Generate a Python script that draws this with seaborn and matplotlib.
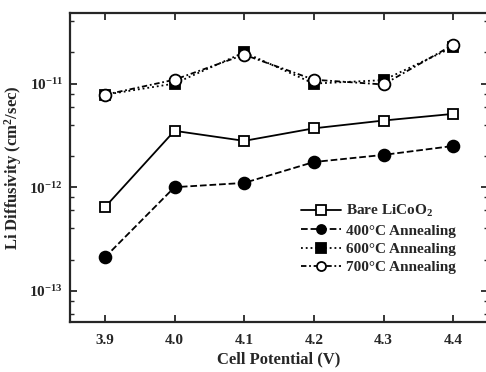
import numpy as np
import pandas as pd
import matplotlib
matplotlib.use('Agg')
import matplotlib.pyplot as plt
import matplotlib.ticker as mticker
import seaborn as sns

# data
potential = [3.9, 4.0, 4.1, 4.2, 4.3, 4.4]
bare = [6.4e-13, 3.5e-12, 2.8e-12, 3.7e-12, 4.4e-12, 5.1e-12]
ann400 = [2.1e-13, 1.0e-12, 1.1e-12, 1.75e-12, 2.05e-12, 2.5e-12]
ann600 = [7.8e-12, 1.0e-11, 2.0e-11, 1.0e-11, 1.08e-11, 2.25e-11]
ann700 = [7.8e-12, 1.09e-11, 1.9e-11, 1.09e-11, 0.98e-11, 2.37e-11]
labels = [r'Bare LiCoO$\mathbf{_2}$', u'400\u00b0C Annealing',
          u'600\u00b0C Annealing', u'700\u00b0C Annealing']

sns.set_style('ticks')
plt.rcParams['font.family'] = ['Liberation Serif', 'DejaVu Serif']
plt.rcParams['font.weight'] = 'bold'
plt.rcParams['mathtext.fontset'] = 'custom'
plt.rcParams['mathtext.rm'] = 'Liberation Serif:bold'
plt.rcParams['mathtext.bf'] = 'Liberation Serif:bold'

df = pd.DataFrame({'V': potential * 4,
                   'D': bare + ann400 + ann600 + ann700,
                   'series': np.repeat(labels, len(potential))})

fig = plt.figure(figsize=(4.86, 3.72), dpi=100)
ax = fig.add_axes([70 / 486, 1 - 322 / 372, 418 / 486, 309 / 372])

styles = [('-', 's', 'white', 7.5), ('--', 'o', 'black', 8.5),
          (':', 's', 'black', 7.5), ((0, (3, 1.5, 1, 1.5)), 'o', 'white', 8.5)]
for lab, (ls, mk, fc, ms) in zip(labels, styles):
    sub = df[df['series'] == lab]
    sns.lineplot(data=sub, x='V', y='D', ax=ax, color='black', linestyle=ls,
                 marker=mk, markerfacecolor=fc, markeredgecolor='black',
                 markeredgewidth=1.3, markersize=ms, linewidth=1.3, label=lab)

ax.set_yscale('log')
ax.set_xlim(3.85, 4.45)
ax.set_ylim(5e-14, 4.8e-11)
ax.set_xticks(potential)
ax.set_xticklabels(['%.1f' % v for v in potential])
ax.yaxis.set_major_locator(mticker.FixedLocator([1e-13, 1e-12, 1e-11]))
ax.yaxis.set_major_formatter(mticker.FuncFormatter(
    lambda v, p: r'$\mathbf{10^{%d}}$' % round(np.log10(v))))
ax.yaxis.set_minor_locator(mticker.LogLocator(base=10, subs=[2, 4, 6, 8]))
ax.yaxis.set_minor_formatter(mticker.NullFormatter())
ax.tick_params(which='both', direction='in', top=True, right=True, labelsize=11)
ax.tick_params(which='major', length=5, width=1.3)
ax.tick_params(which='minor', length=3, width=1.0)
ax.tick_params(axis='x', pad=9)
ax.tick_params(axis='y', pad=5)
for s in ax.spines.values():
    s.set_linewidth(1.6)

ax.set_xlabel('Cell Potential (V)', fontsize=12, fontweight='bold', labelpad=3)
ax.set_ylabel(r'Li Diffusivity (cm$\mathbf{^2}$/sec)', fontsize=12,
              fontweight='bold', labelpad=4)

leg = ax.legend(loc='lower right', bbox_to_anchor=(0.955, 0.11), frameon=False,
                handlelength=2.6, handletextpad=0.3, labelspacing=0.3,
                prop={'weight': 'bold', 'size': 11, 'family': 'Liberation Serif'})
for h in leg.legend_handles:
    h.set_markersize(6.5)

fig.savefig('out.png', dpi=100)
